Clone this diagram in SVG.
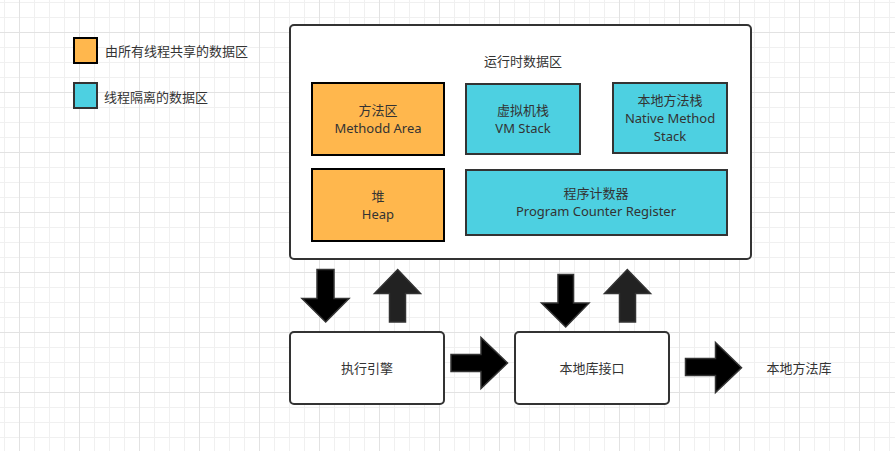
<svg xmlns="http://www.w3.org/2000/svg" width="895" height="451" viewBox="0 0 895 451">
<defs>
<pattern id="grid" patternUnits="userSpaceOnUse" x="4" y="2" width="60" height="60">
<path d="M0.5 0V60M30.5 0V60M45.5 0V60M0 0.5H60M0 15.5H60M0 45.5H60" stroke="#f0f0f0" stroke-width="1" fill="none"/>
<path d="M15.5 0V60M0 30.5H60" stroke="#e2e2e2" stroke-width="1" fill="none"/>
</pattern>
<style>
text{font-family:"Microsoft YaHei","Noto Sans","Noto Sans CJK SC",sans-serif;font-size:13px;fill:#333;text-anchor:middle}
.orange{fill:#FFB74D;stroke:#000;stroke-width:2}
.cyan{fill:#4DD0E1;stroke:#333;stroke-width:2}
.box{fill:#fff;stroke:#333;stroke-width:2}
.arr{fill:#000;stroke:#333;stroke-width:1.5;stroke-linejoin:miter}
.arru{fill:#222;stroke:#333;stroke-width:1.5}
.lg{text-anchor:start}
</style>
</defs>
<rect width="895" height="451" fill="#fff"/>
<rect width="895" height="451" fill="url(#grid)"/>

<g id="legend-shared">
<rect class="orange" x="74" y="38" width="23" height="25" stroke="#333"/>
<text class="lg" x="105" y="56">由所有线程共享的数据区</text>
</g>
<g id="legend-isolated">
<rect class="cyan" x="74" y="83" width="23" height="25"/>
<text class="lg" x="104" y="102">线程隔离的数据区</text>
</g>

<g id="runtime-data-area">
<rect class="box" x="290" y="25" width="461" height="234" rx="4"/>
<text x="523" y="66">运行时数据区</text>
</g>
<g id="method-area">
<rect class="orange" x="312" y="83" width="132" height="72"/>
<text x="378" y="114.5"><tspan x="378">方法区</tspan><tspan x="378" dy="18">Methodd Area</tspan></text>
</g>
<g id="vm-stack">
<rect class="cyan" x="466" y="84" width="114" height="70"/>
<text x="523" y="114.5"><tspan x="523">虚拟机栈</tspan><tspan x="523" dy="18">VM Stack</tspan></text>
</g>
<g id="native-method-stack">
<rect class="cyan" x="613" y="83" width="114" height="70"/>
<text x="670" y="104.5"><tspan x="670">本地方法栈</tspan><tspan x="670" dy="18">Native Method</tspan><tspan x="670" dy="18">Stack</tspan></text>
</g>
<g id="heap">
<rect class="orange" x="312" y="169" width="132" height="72"/>
<text x="378" y="200.5"><tspan x="378">堆</tspan><tspan x="378" dy="18">Heap</tspan></text>
</g>
<g id="pc-register">
<rect class="cyan" x="466" y="170" width="261" height="65"/>
<text x="596" y="198"><tspan x="596">程序计数器</tspan><tspan x="596" dy="18">Program Counter Register</tspan></text>
</g>

<g id="execution-engine">
<rect class="box" x="290" y="332" width="154" height="72" rx="4"/>
<text x="367" y="373">执行引擎</text>
</g>
<g id="native-interface">
<rect class="box" x="515" y="332" width="154" height="72" rx="4"/>
<text x="592" y="373">本地库接口</text>
</g>
<g id="native-library">
<text x="799" y="373">本地方法库</text>
</g>

<g id="connectors">
<polygon class="arr" points="317,269.5 334,269.5 334,298.5 349,298.5 325.7,322 302,298.5 317,298.5"/>
<polygon class="arru" points="389.5,322 405.5,322 405.5,293.5 420.5,293.5 397.7,269.5 374.5,293.5 389.5,293.5"/>
<polygon class="arr" points="451,354.5 481,354.5 481,337.5 507.5,363 481,388.5 481,371.5 451,371.5"/>
<polygon class="arr" points="558,274.5 573.5,274.5 573.5,303 589,303 565.7,327 541.5,303 558,303"/>
<polygon class="arru" points="619.5,322 635.5,322 635.5,293.5 650.5,293.5 627.3,269.5 604.5,293.5 619.5,293.5"/>
<polygon class="arr" points="685.5,358.5 715.5,358.5 715.5,342.5 741.5,367.7 715.5,392.5 715.5,375.5 685.5,375.5"/>
</g>
</svg>
